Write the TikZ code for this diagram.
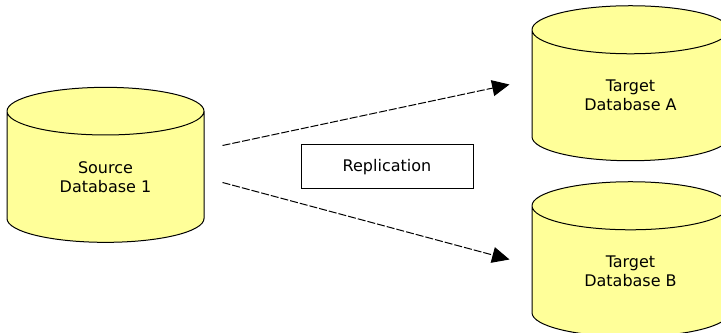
\documentclass[tikz,border=0pt]{standalone}
\usepackage{fontspec}
\setmainfont{DejaVu Sans}
\usepackage{tikz}
\usetikzlibrary{arrows.meta,shapes.geometric}
\definecolor{dbyellow}{RGB}{255,255,153}
\begin{document}
\begin{tikzpicture}[x=0.75pt,y=0.75pt,font=\fontsize{12}{14.25}\selectfont,
   db/.style={cylinder,shape border rotate=90,aspect=0.52,draw,line width=0.75pt,fill=dbyellow,
     minimum width=147.75pt,minimum height=116.25pt,align=center,inner sep=0pt},
   repl/.style={draw,line width=0.75pt,dash pattern=on 6pt off 1.5pt,-{Triangle[length=13pt,width=12pt]}}]
\clip (0,0) rectangle (721,332);
% source on the left, the two targets stacked on the right
\node[db] (src) at (105.5,155) {Source\\Database 1};
\node[db] (tgtA) at (630.5,236.5) {Target\\Database A};
\node[db] (tgtB) at (630.5,60.5) {Target\\Database B};
\node[draw,line width=0.75pt,minimum width=129pt,minimum height=33pt] (rep) at (387,165) {Replication};
% connectors, kept clear of the cylinders
\draw[repl] ([shift={(18,31.5)}]src.east) -- ([shift={(-22,11)}]tgtA.west);
\draw[repl] ([shift={(18,-5.5)}]src.east) -- ([shift={(-22,12)}]tgtB.west);
\end{tikzpicture}
\end{document}
